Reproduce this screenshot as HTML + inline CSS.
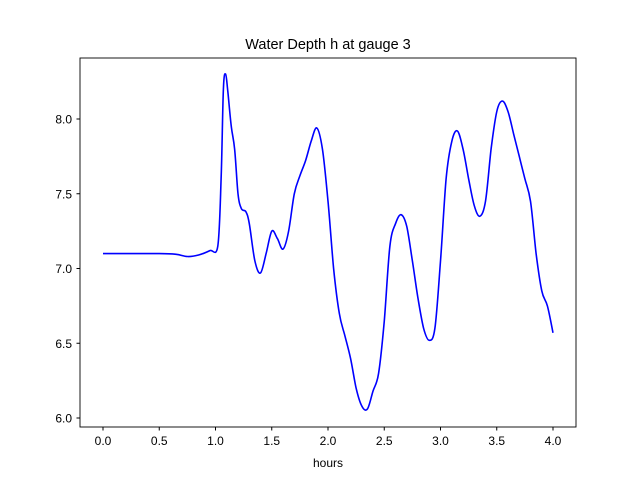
<!DOCTYPE html>
<html><head><meta charset="utf-8"><style>
body{margin:0;background:#fff;}
svg text{font-family:"Liberation Sans","DejaVu Sans",sans-serif;}
</style></head><body>
<svg id="chart" width="640" height="480" viewBox="0 0 640 480">
<rect width="640" height="480" fill="#fff"/>
<text x="328" y="49" font-size="14.5" text-anchor="middle">Water Depth h at gauge 3</text>
<g id="xt"></g>
<g id="yt"></g>
<path id="line" fill="none" stroke="#0000ff" stroke-width="1.6" stroke-linejoin="round"/>
<rect x="80" y="58" width="496" height="369" fill="none" stroke="#000" stroke-width="0.9"/>
<text x="328" y="467" font-size="12" text-anchor="middle">hours</text>
</svg>
<script>
const hours=[0,0.5,0.65,0.75,0.85,0.95,1.02,1.05,1.07,1.09,1.11,1.14,1.17,1.2,1.23,1.27,1.3,1.35,1.4,1.45,1.5,1.55,1.6,1.65,1.7,1.75,1.8,1.85,1.9,1.95,2.0,2.05,2.1,2.15,2.2,2.25,2.3,2.35,2.4,2.45,2.5,2.55,2.6,2.65,2.7,2.75,2.8,2.85,2.9,2.95,3.0,3.05,3.1,3.15,3.2,3.25,3.3,3.35,3.4,3.45,3.5,3.55,3.6,3.65,3.7,3.75,3.8,3.85,3.9,3.95,4.0];
const depth=[7.10,7.10,7.095,7.08,7.09,7.12,7.15,7.6,8.2,8.3,8.18,7.95,7.8,7.5,7.4,7.38,7.3,7.05,6.97,7.1,7.25,7.2,7.13,7.25,7.5,7.62,7.72,7.85,7.94,7.8,7.45,7.0,6.7,6.55,6.4,6.2,6.08,6.06,6.18,6.3,6.65,7.15,7.3,7.36,7.28,7.05,6.8,6.6,6.52,6.6,7.05,7.6,7.85,7.92,7.8,7.6,7.42,7.35,7.45,7.8,8.05,8.12,8.05,7.9,7.75,7.6,7.45,7.1,6.85,6.75,6.57];
const xTicks=[0,0.5,1,1.5,2,2.5,3,3.5,4];
const xLabels=["0.0","0.5","1.0","1.5","2.0","2.5","3.0","3.5","4.0"];
const yTicks=[6,6.5,7,7.5,8];
const yLabels=["6.0","6.5","7.0","7.5","8.0"];
const X=v=>103+v*112.5;
const Y=v=>418-(v-6)*149.5;
const NS="http://www.w3.org/2000/svg";
const xt=document.getElementById('xt'),yt=document.getElementById('yt');
xTicks.forEach((t,i)=>{
 const l=document.createElementNS(NS,'line');
 l.setAttribute('x1',X(t));l.setAttribute('x2',X(t));l.setAttribute('y1',427);l.setAttribute('y2',430.5);l.setAttribute('stroke','#000');
 
 
 xt.appendChild(l);
 const s=document.createElementNS(NS,'text');
 s.setAttribute('x',X(t));s.setAttribute('y',445);s.setAttribute('font-size','12');s.setAttribute('text-anchor','middle');s.textContent=xLabels[i];
 
 
 xt.appendChild(s);
});
yTicks.forEach((t,i)=>{
 const l=document.createElementNS(NS,'line');
 l.setAttribute('x1',76.5);l.setAttribute('x2',80);l.setAttribute('y1',Y(t));l.setAttribute('y2',Y(t));l.setAttribute('stroke','#000');
 
 
 yt.appendChild(l);
 const s=document.createElementNS(NS,'text');
 s.setAttribute('x',72);s.setAttribute('y',Y(t)+4.5);s.setAttribute('font-size','12');s.setAttribute('text-anchor','end');s.textContent=yLabels[i];
 
 
 yt.appendChild(s);
});
const P=hours.map((h,i)=>[X(h),Y(depth[i])]);
let d='M'+P[0][0].toFixed(1)+','+P[0][1].toFixed(1);
for(let i=0;i<P.length-1;i++){
 const p0=P[Math.max(0,i-1)],p1=P[i],p2=P[i+1],p3=P[Math.min(P.length-1,i+2)];
 const c1=[p1[0]+(p2[0]-p0[0])/6,p1[1]+(p2[1]-p0[1])/6];
 const c2=[p2[0]-(p3[0]-p1[0])/6,p2[1]-(p3[1]-p1[1])/6];
 d+=' C'+c1[0].toFixed(1)+','+c1[1].toFixed(1)+' '+c2[0].toFixed(1)+','+c2[1].toFixed(1)+' '+p2[0].toFixed(1)+','+p2[1].toFixed(1);
}
document.getElementById('line').setAttribute('d',d);
</script>
</body></html>
